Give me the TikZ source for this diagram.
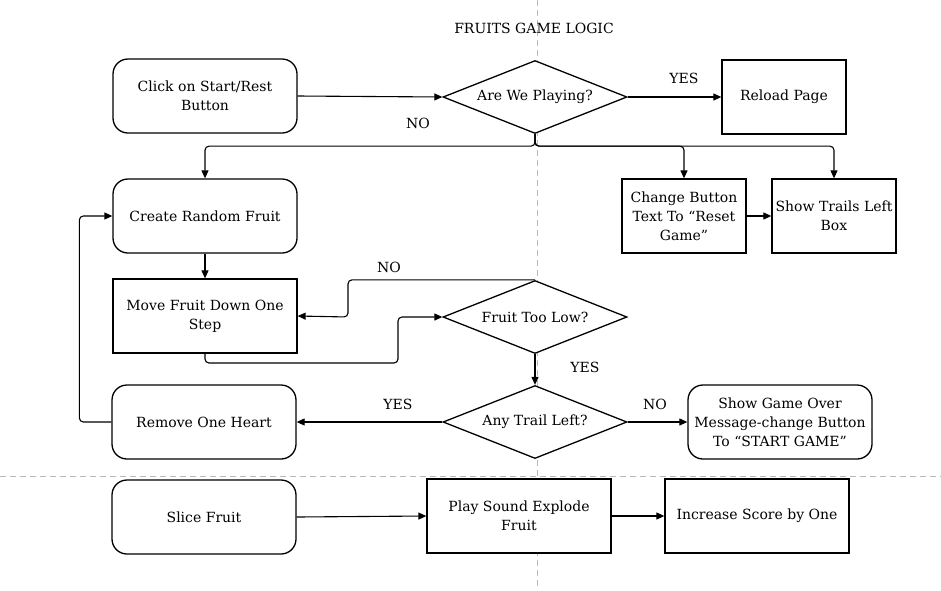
\documentclass[tikz,border=0pt]{standalone}
\usepackage{fontspec}
\setmainfont{DejaVu Serif}
\usetikzlibrary{arrows.meta,shapes.geometric}

\begin{document}
\begin{tikzpicture}[x=1pt,y=-1pt,
    font=\fontsize{14}{19}\selectfont,
    every node/.style={align=center},
    line width=1.3pt,
    rbox/.style={draw, fill=white, rounded corners=15pt, minimum width=184pt, minimum height=74pt, inner sep=2pt},
    sbox/.style={draw, fill=white, minimum width=184pt, minimum height=74pt, inner sep=2pt},
    tbox/.style={draw, fill=white, minimum width=124pt, minimum height=74pt, inner sep=2pt},
    ask/.style={draw, fill=white, shape=diamond, aspect=2.5, minimum width=184pt, minimum height=73pt, inner sep=0pt},
    arr/.style={-{Triangle[length=8pt,width=7pt]}, line width=1.1pt, rounded corners=4pt}]
	    \useasboundingbox (0,0) rectangle (941,590);
	    % guide lines
	    \draw[gray!55, line width=0.7pt, dash pattern=on 6pt off 4pt] (537,0) -- (537,590);
	    \draw[gray!55, line width=0.7pt, dash pattern=on 6pt off 4pt] (0,476) -- (941,476);

			    \node (TT) at (534,28) {FRUITS GAME LOGIC};

			    \node[rbox] (AA) at (205,96) {Click on Start/Rest\\Button};
		    	\node[ask] (AB) at (535,97) {Are We Playing?};
		    	\node[tbox] (AC) at (784,97) {Reload Page};
		    	\node[rbox] (AD) at (205,216) {Create Random Fruit};
		    	\node[tbox] (AE) at (684,216) {Change Button\\Text To “Reset\\Game”};
		    	\node[tbox] (AF) at (834,216) {Show Trails Left\\Box};
		    	\node[sbox] (AG) at (205,316) {Move Fruit Down One\\Step};
		    	\node[ask] (AH) at (535,317) {Fruit Too Low?};
		    	\node[ask] (AI) at (535,422) {Any Trail Left?};
		    	\node[rbox] (AJ) at (204,422) {Remove One Heart};
		    	\node[rbox] (AK) at (780,422) {Show Game Over\\Message-change Button\\To “START GAME”};
		    	\node[rbox] (AL) at (204,517) {Slice Fruit};
		    	\node[sbox] (AM) at (519,516) {Play Sound Explode\\Fruit};
		    	\node[sbox] (AN) at (757,516) {Increase Score by One};

		    	\node (LA) at (684,78) {YES};
		    	\node (LB) at (418,123) {NO};
		    	\node (LC) at (389,267) {NO};
		    	\node (LD) at (585,367) {YES};
		    	\node (LE) at (398,404) {YES};
		    	\node (LF) at (655,404) {NO};

		    	\draw[arr] (AA.east)--(AB.west);
		    	\draw[arr] (AB.east)--(AC.west);
		    	\draw[arr] (AB.south)--++(0,12)-|(AD.north);
		    	\draw[arr] (AB.south)--++(0,12)-|(AE.north);
		    	\draw[arr] (AB.south)--++(0,12)-|(AF.north);
		    	\draw[arr] (AE.east)--(AF.west);
		    	\draw[arr] (AD.south)--(AG.north);
		    	\draw[arr] (AG.south)|-(398,363)|-(AH.west);
	    	    \draw[arr] (AH.north)-|(348,317)--(AG.east);
	    	    \draw[arr] (AH.south)--(AI.north);
	    	    \draw[arr] (AI.west)--(AJ.east);
	    	    \draw[arr] (AI.east)--(AK.west);
	    	    \draw[arr] (AJ.west)--++(-32,0)|-(AD.west);
	    	    \draw[arr] (AL.east)--(AM.west);
	    	    \draw[arr] (AM.east)--(AN.west);
		    \end{tikzpicture}
\end{document}
